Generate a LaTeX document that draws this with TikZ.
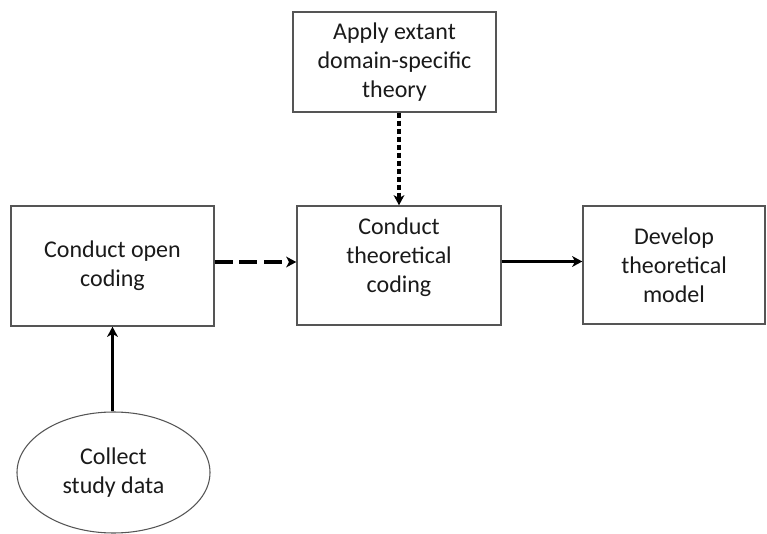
\documentclass[tikz,border=0pt]{standalone}
\usepackage{fontspec}
\setmainfont{Carlito}
\usetikzlibrary{arrows.meta,shapes.geometric}
\definecolor{edgegray}{HTML}{555555}
\definecolor{inkcol}{HTML}{1A1A1A}
\tikzset{
  txtfont/.style={font=\fontsize{18}{21.75}\selectfont},
  stepbox/.style={draw=edgegray, line width=1.1pt, rectangle, inner sep=0pt,
    align=center, text=inkcol, txtfont},
  blob/.style={draw=edgegray, line width=0.8pt, ellipse, inner sep=0pt,
    align=center, text=inkcol, txtfont},
  flow/.style={line width=2.6pt, black, -{Stealth[length=7.5pt,width=8pt,inset=2pt]}},
  longdash/.style={flow, dash pattern=on 13.5pt off 5pt},
  shortdash/.style={flow, dash pattern=on 4pt off 2pt}
}
\begin{document}
\begin{tikzpicture}[x=0.75pt,y=-0.75pt]
  \useasboundingbox[fill=white] (0,0) rectangle (767,534);

  % process boxes
  \node[stepbox, minimum width=152.25pt, minimum height=90pt] (open) at (112.5,266)
    {Conduct open\\coding};
  \node[stepbox, minimum width=153pt, minimum height=89.25pt,
    label={[align=center, text=inkcol, txtfont, yshift=6.5pt]center:Conduct\\theoretical\\coding}] (tc) at (399,265.5) {};
  \node[stepbox, minimum width=152.25pt, minimum height=75pt] (apply) at (394.5,62)
    {Apply extant\\domain-specific\\theory};
  \node[stepbox, minimum width=136.5pt, minimum height=88.5pt] (dev) at (674,265)
    {Develop\\theoretical\\model};

  % data source
  \node[blob, minimum width=144.75pt, minimum height=90.75pt] (data) at (113.5,472.5)
    {Collect\\study data};

  % connectors
  \draw[flow] (data.north -| open.south) -- (open.south);
  \draw[longdash] ([yshift=3pt]open.east) -- ([yshift=3pt]open.east -| tc.west);
  \draw[shortdash] (apply.south -| tc.north) -- (tc.north);
  \draw[flow] ([yshift=3pt]tc.east) -- ([yshift=3pt]tc.east -| dev.west);
\end{tikzpicture}
\end{document}
